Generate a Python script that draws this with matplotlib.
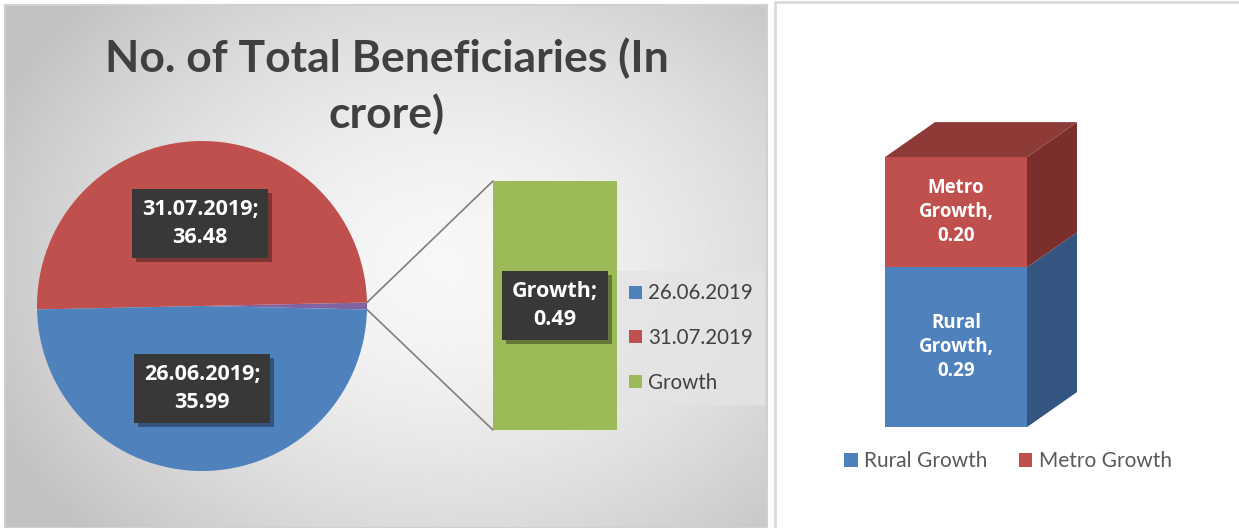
import matplotlib
matplotlib.use("Agg")
import matplotlib.pyplot as plt
import matplotlib.patheffects as pe
from matplotlib.patches import Patch, Polygon, Rectangle, ConnectionPatch
import numpy as np

plt.rcParams['font.family'] = ['Lato', 'DejaVu Sans']
BOLD = ['Open Sans', 'DejaVu Sans']

# data
pie_labels = ["26.06.2019", "31.07.2019", "Growth"]
pie_values = [35.99, 36.48, 0.49]
pie_colors = ["#4F81BD", "#C0504D", "#9BBB59"]
other_color = "#8064A2"

growth_labels = ["Rural Growth", "Metro Growth"]
growth_values = [0.29, 0.20]
growth_front = ["#4F81BD", "#C0504D"]
growth_side = ["#33557F", "#7B2F2D"]
growth_top = "#8E3A37"

W, H = 1239, 528
fig = plt.figure(figsize=(W / 100, H / 100), dpi=100)
fig.patch.set_facecolor("white")


def box(x0, y0, x1, y1):
    # pixel box (top-left origin) -> figure fraction rect
    return [x0 / W, (H - y1) / H, (x1 - x0) / W, (y1 - y0) / H]


# left panel background with soft radial gradient
bg = fig.add_axes(box(5, 5, 767, 528))
yy, xx = np.mgrid[0:1:300j, 0:1:400j]
r = np.sqrt(((xx - 0.58) / 0.75) ** 2 + ((yy - 0.5) / 0.85) ** 2)
grad = np.clip(0.97 - 0.26 * r ** 1.6, 0.76, 0.97)
bg.imshow(grad, cmap="gray", vmin=0, vmax=1, extent=(0, 1, 0, 1), aspect="auto")
bg.set_axis_off()
fig.add_artist(Rectangle((5 / W, 0), 762 / W, (H - 5) / H, transform=fig.transFigure,
                         fill=False, edgecolor="#d0d0d0", lw=1.5))

fig.text(387 / W, (H - 58) / H, "No. of Total Beneficiaries (In", ha="center", va="center",
         fontsize=32, fontweight="bold", color="#404040")
fig.text(387 / W, (H - 114) / H, "crore)", ha="center", va="center",
         fontsize=32, fontweight="bold", color="#404040")

label_style = dict(ha="center", va="center", color="white", fontsize=15.5, fontweight="bold",
                   family=BOLD, linespacing=1.45,
                   bbox=dict(boxstyle="square,pad=0.45", facecolor="#383838", edgecolor="none"))
shadow = [pe.withSimplePatchShadow(offset=(3, -3), shadow_rgbFace="black", alpha=0.35), pe.Normal()]

# pie (growth shown as the "other" sliver)
ax1 = fig.add_axes(box(37, 141, 367, 471))
order = [2, 1, 0]
half = pie_values[2] / sum(pie_values) * 360 / 2
wedges, _ = ax1.pie([pie_values[i] for i in order],
                    colors=[other_color, pie_colors[1], pie_colors[0]],
                    startangle=-half, counterclock=True, radius=1,
                    wedgeprops=dict(linewidth=0))
ax1.set_xlim(-1, 1)
ax1.set_ylim(-1, 1)
for w, i in zip(wedges[1:], order[1:]):
    mid = np.deg2rad((w.theta1 + w.theta2) / 2)
    t = ax1.text(0.5 * np.cos(mid), 0.5 * np.sin(mid),
                 f"{pie_labels[i]};\n{pie_values[i]:.2f}", **label_style)
    t.get_bbox_patch().set_path_effects(shadow)

# bar of growth
ax2 = fig.add_axes(box(493, 181, 617, 430))
ax2.bar(0, pie_values[2], width=1, color=pie_colors[2])
ax2.set_xlim(-0.5, 0.5)
ax2.set_ylim(0, pie_values[2])
ax2.set_axis_off()
t = ax2.text(0, pie_values[2] / 2, f"{pie_labels[2]};\n{pie_values[2]:.2f}", **label_style)
t.get_bbox_patch().set_path_effects(shadow)

th1, th2 = np.deg2rad(wedges[0].theta1), np.deg2rad(wedges[0].theta2)
for th, yb in [(th2, pie_values[2]), (th1, 0)]:
    fig.add_artist(ConnectionPatch((np.cos(th), np.sin(th)), (-0.5, yb),
                                   coordsA=ax1.transData, coordsB=ax2.transData,
                                   color="#7f7f7f", lw=1.2))

handles = [Patch(facecolor=c, edgecolor="none") for c in pie_colors]
leg = fig.legend(handles, pie_labels, loc="center left", bbox_to_anchor=(617 / W, (H - 338) / H),
                 fontsize=14.8, frameon=True, fancybox=False, handlelength=0.6, handleheight=0.6,
                 handletextpad=0.3, labelspacing=1.2, borderpad=0.6, borderaxespad=0)
leg.get_frame().set_facecolor("#e4e4e4")
leg.get_frame().set_edgecolor("none")
for tx in leg.get_texts():
    tx.set_color("#404040")

# right panel
fig.add_artist(Rectangle((775 / W, -0.01), (W - 775 + 10) / W, (H - 2) / H + 0.01,
                         transform=fig.transFigure, fill=False, edgecolor="#d9d9d9", lw=2))

ax3 = fig.add_axes(box(856.6, 96.5, 1098, 454.6))
ax3.set_xlim(-0.7, 1.0)
ax3.set_ylim(-0.05, 0.6)
ax3.set_axis_off()
dx, dy = 0.352, 0.0635
bottom = 0
for v, lab, cf, cs in zip(growth_values, growth_labels, growth_front, growth_side):
    ax3.bar(0, v, bottom=bottom, width=1, color=cf, linewidth=0)
    ax3.add_patch(Polygon([(0.5, bottom), (0.5 + dx, bottom + dy), (0.5 + dx, bottom + v + dy),
                           (0.5, bottom + v)], closed=True, facecolor=cs, edgecolor="none"))
    name = lab.split()
    ax3.text(0, bottom + v / 2, f"{name[0]}\n{name[1]},\n{v:.2f}", ha="center", va="center",
             color="white", fontsize=13.5, fontweight="bold", family=BOLD, linespacing=1.25)
    bottom += v
ax3.add_patch(Polygon([(-0.5, bottom), (0.5, bottom), (0.5 + dx, bottom + dy), (-0.5 + dx, bottom + dy)],
                      closed=True, facecolor=growth_top, edgecolor="none"))

handles = [Patch(facecolor=c, edgecolor="none") for c in growth_front]
leg2 = fig.legend(handles, growth_labels, loc="center", bbox_to_anchor=(1008 / W, (H - 461) / H),
                  ncol=2, fontsize=15, frameon=False, handlelength=0.65, handleheight=0.65,
                  handletextpad=0.3, columnspacing=1.5)
for tx in leg2.get_texts():
    tx.set_color("#595959")

fig.savefig("out.png", dpi=100)
